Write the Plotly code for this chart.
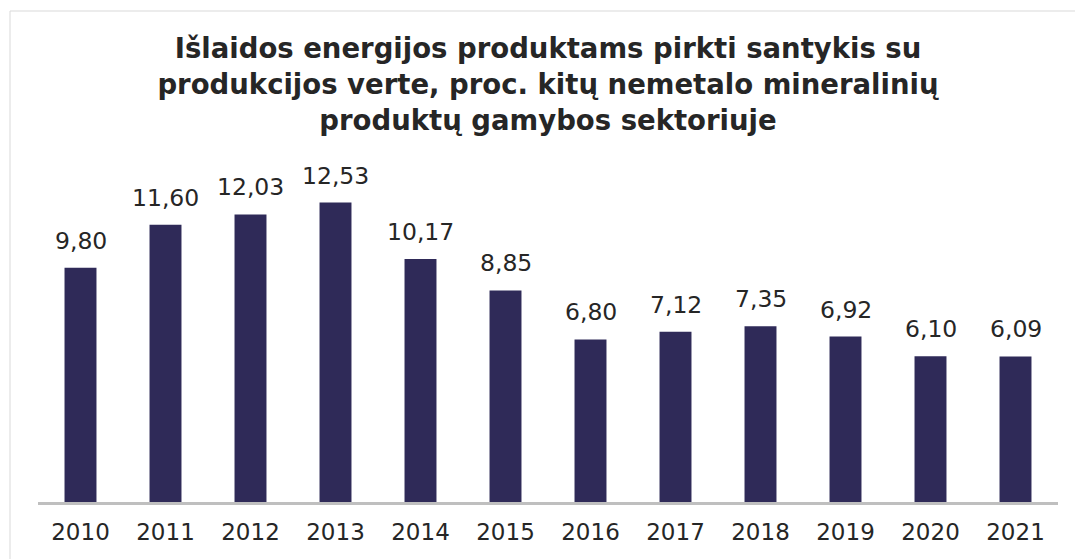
import plotly.graph_objects as go

years = ["2010", "2011", "2012", "2013", "2014", "2015", "2016", "2017", "2018", "2019", "2020", "2021"]
values = [9.80, 11.60, 12.03, 12.53, 10.17, 8.85, 6.80, 7.12, 7.35, 6.92, 6.10, 6.09]
labels = [f"{v:.2f}".replace(".", ",") for v in values]

title_text = ("Išlaidos energijos produktams pirkti santykis su<br>"
              "produkcijos verte, proc. kitų nemetalo mineralinių<br>"
              "produktų gamybos sektoriuje")

FONT = "DejaVu Sans"
TXT = "#262626"

fig = go.Figure()
fig.add_trace(go.Bar(x=years, y=values, marker=dict(color="#2F2A58", line=dict(width=0)),
                     text=labels, textposition="none", hoverinfo="x+y"))

for i, (v, lb) in enumerate(zip(values, labels)):
    fig.add_annotation(x=i, y=v, xref="x", yref="y", text=lb, showarrow=False,
                       yanchor="bottom", yshift=11,
                       font=dict(family=FONT, size=23.5, color=TXT))

W, H = 1075, 559
L, R, T, B = 38, W - 1058, 175, H - 502
pw, ph = W - L - R, H - T - B

# light frame around the chart (top and left edges visible)
bx0 = (10 - L) / pw
by1 = ((H - B) - 11) / ph
fig.add_shape(type="line", xref="paper", yref="paper", x0=bx0, x1=(W + 5 - L) / pw,
              y0=by1, y1=by1, line=dict(color="#D9D9D9", width=1), layer="below")
fig.add_shape(type="line", xref="paper", yref="paper", x0=bx0, x1=bx0,
              y0=by1, y1=-(H + 5 - (H - B)) / ph, line=dict(color="#D9D9D9", width=1),
              layer="below")

fig.update_layout(
    width=W, height=H,
    margin=dict(l=L, r=R, t=T, b=B),
    paper_bgcolor="white", plot_bgcolor="white",
    bargap=0.624,
    showlegend=False,
    hovermode=False,
    title=dict(text=title_text, x=0.5, xref="paper", xanchor="center",
               y=1 - 58 / H, yref="container", yanchor="top",
               font=dict(family=FONT, size=27.5, color=TXT, weight="bold")),
    xaxis=dict(type="category", categoryorder="array", categoryarray=years,
               range=[-0.5, len(years) - 0.5], autorange=False,
               showline=True, linecolor="#BFBFBF", linewidth=3,
               showgrid=False, ticks="", ticklabelstandoff=7,
               tickfont=dict(family=FONT, size=23, color=TXT)),
    yaxis=dict(range=[0, ph / 23.9], visible=False, showgrid=False, zeroline=False),
)

fig.write_html("out.html", config={"displayModeBar": False},
               post_script="document.body.style.margin='0';document.body.style.overflow='hidden';")
